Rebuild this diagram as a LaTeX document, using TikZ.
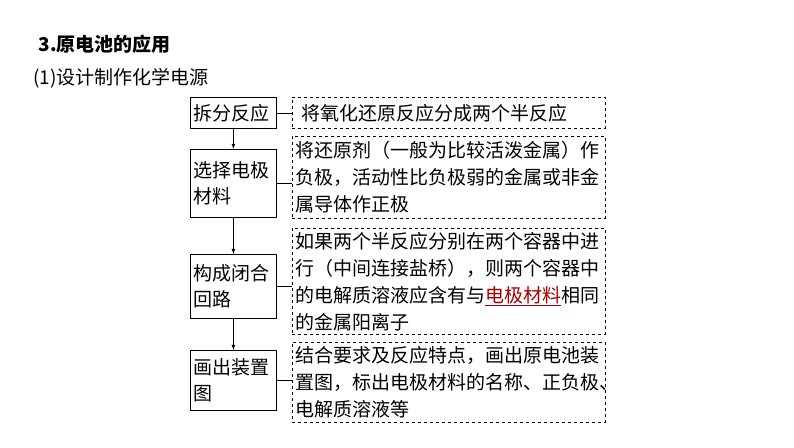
\documentclass[tikz,border=0pt]{standalone}
\usepackage{fontspec}
\setmainfont{Noto Sans CJK SC}
\begin{document}
\begin{tikzpicture}[x=1pt,y=-1pt,
  lbox/.style={draw,thick,minimum width=86pt,align=left,inner sep=3pt,font=\fontsize{19}{26}\selectfont,anchor=north west,text width=80pt},
  rbox/.style={draw,dashed,thick,align=left,inner sep=3pt,font=\fontsize{19}{27}\selectfont,anchor=north west,text width=307pt},
  con/.style={thick},
  arr/.style={thick,-latex}]
\useasboundingbox (0,0) rectangle (794,447);
\node[anchor=west,font=\bfseries\fontsize{19}{20}\selectfont] (t) at (35,44) {3.原电池的应用};
\node[anchor=west,font=\fontsize{19}{20}\selectfont] (s) at (30,78) {(1)设计制作化学电源};
\node[lbox,minimum height=31pt] (a) at (190,97) {拆分反应};
\node[lbox,minimum height=68pt] (b) at (190,149) {选择电极\\材料};
\node[lbox,minimum height=64pt] (c) at (190,254) {构成闭合\\回路};
\node[lbox,minimum height=60pt] (d) at (190,350) {画出装置\\图};
\node[rbox,minimum height=31pt] (ra) at (292,97) {\ 将氧化还原反应分成两个半反应};
\node[rbox,minimum height=82pt] (rb) at (292,136) {将还原剂（一般为比较活泼金属）作\\负极，活动性比负极弱的金属或非金\\属导体作正极};
\node[rbox,minimum height=106pt] (rc) at (292,228) {如果两个半反应分别在两个容器中进\\行（中间连接盐桥），则两个容器中\\的电解质溶液应含有与\textcolor{red!65!black}{$\underline{\hbox{电极材料}}$}相同\\的金属阳离子};
\node[rbox,minimum height=80pt] (rd) at (292,342) {结合要求及反应特点，画出原电池装\\置图，标出电极材料的名称、正负极、\\电解质溶液等};
\draw[arr] (a) -- (b);
\draw[arr] (b) -- (c);
\draw[arr] (c) -- (d);
\draw[con] (a) -- (ra);
\draw[con] (b.east) -- (b.east -| rb.west);
\draw[con] (c.east) -- (c.east -| rc.west);
\draw[con] (d.east) -- (d.east -| rd.west);
\end{tikzpicture}
\end{document}
